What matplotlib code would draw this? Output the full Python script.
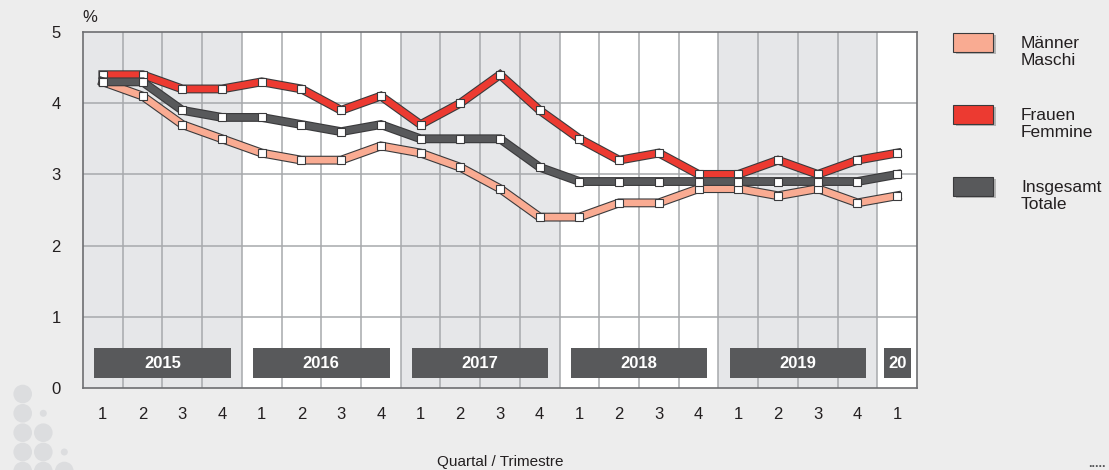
import matplotlib
matplotlib.use("Agg")
import matplotlib.pyplot as plt
import matplotlib.patheffects as pe
from matplotlib.patches import Rectangle, Circle
from matplotlib.transforms import IdentityTransform
import numpy as np

plt.rcParams['font.family'] = ['Liberation Sans', 'DejaVu Sans']

quarters = ["1", "2", "3", "4"] * 5 + ["1"]
years = ["2015", "2016", "2017", "2018", "2019", "20"]
maenner = [4.3, 4.1, 3.7, 3.5, 3.3, 3.2, 3.2, 3.4, 3.3, 3.1, 2.8, 2.4, 2.4, 2.6, 2.6, 2.8, 2.8, 2.7, 2.8, 2.6, 2.7]
frauen = [4.4, 4.4, 4.2, 4.2, 4.3, 4.2, 3.9, 4.1, 3.7, 4.0, 4.4, 3.9, 3.5, 3.2, 3.3, 3.0, 3.0, 3.2, 3.0, 3.2, 3.3]
totale = [4.3, 4.3, 3.9, 3.8, 3.8, 3.7, 3.6, 3.7, 3.5, 3.5, 3.5, 3.1, 2.9, 2.9, 2.9, 2.9, 2.9, 2.9, 2.9, 2.9, 3.0]
series_labels = ["Männer\nMaschi", "Frauen\nFemmine", "Insgesamt\nTotale"]

c_m = "#f9ab92"
c_f = "#ec3a31"
c_t = "#58595b"
edge = "#3a3a3c"
bg = "#ededed"
shade = "#e6e7e9"
gridc = "#a7a9ac"

fig = plt.figure(figsize=(11.09, 4.70), dpi=100, facecolor=bg)
ax = fig.add_axes([83/1109, 1-388/470, (917-83)/1109, (388-32)/470])
ax.set_facecolor("white")

n = len(quarters)
x = np.arange(n)
ax.set_xlim(-0.5, n - 0.5)
ax.set_ylim(0, 5)

# year shading and year boxes
starts = [0, 4, 8, 12, 16, 20]
for i, (yr, s) in enumerate(zip(years, starts)):
    e = min(s + 4, n)
    if i % 2 == 0:
        ax.axvspan(s - 0.5, e - 0.5, color=shade, zorder=0, lw=0)
    if e - s >= 4:
        x0, x1 = s - 0.22, e - 1 + 0.22
    else:
        x0, x1 = s - 0.32, s + 0.36
    ax.add_patch(Rectangle((x0, 0.14), x1 - x0, 0.42, facecolor=c_t, edgecolor="none", zorder=3))
    ax.text((x0 + x1) / 2, 0.35, yr, ha="center", va="center", color="white",
            fontsize=12, fontweight="bold", zorder=4)

# grid
for k in range(1, n):
    ax.axvline(k - 0.5, color=gridc, lw=1.1, zorder=1)
for yv in range(1, 5):
    ax.axhline(yv, color=gridc, lw=1.1, zorder=1)

for sp in ax.spines.values():
    sp.set_color("#6d6e71")
    sp.set_linewidth(1.2)

for vals, col, z in [(frauen, c_f, 5), (maenner, c_m, 6), (totale, c_t, 7)]:
    ax.plot(x, vals, color=col, lw=4.8, solid_joinstyle="miter", zorder=z,
            path_effects=[pe.Stroke(linewidth=6.4, foreground=edge), pe.Normal()])
    ax.plot(x, vals, ls="none", marker="s", ms=5.4, mfc="white", mec=edge, mew=0.8, zorder=z + 0.5)

ax.set_xticks(x)
ax.set_xticklabels(quarters, fontsize=12, color="#231f20")
ax.set_yticks(range(6))
ax.set_yticklabels([str(v) for v in range(6)], fontsize=12, color="#231f20")
ax.tick_params(axis="both", length=0)
ax.tick_params(axis="x", pad=14)
ax.tick_params(axis="y", pad=16)

fig.text(90/1109, 1-17/470, "%", fontsize=12, ha="center", va="center", color="#231f20")
fig.text(500/1109, 1-462/470, "Quartal / Trimestre", fontsize=11, ha="center", va="center", color="#231f20")

# legend
leg_cols = [c_m, c_f, c_t]
leg_top = [33, 105, 177]
for col, lab, yt in zip(leg_cols, series_labels, leg_top):
    sh = Rectangle((956/1109, 1-(yt+21)/470), 40/1109, 19/470, transform=fig.transFigure,
                   facecolor="#b5b5b5", edgecolor="none", zorder=1)
    fig.patches.append(sh)
    r = Rectangle((953/1109, 1-(yt+19)/470), 40/1109, 19/470, transform=fig.transFigure,
                  facecolor=col, edgecolor=edge, lw=0.8, zorder=2)
    fig.patches.append(r)
    fig.text(1021/1109, 1-(yt+19)/470, lab, fontsize=12.5, ha="left", va="center",
             color="#231f20", linespacing=1.1)

# decorative dots
dots = [(22.7, 394, 9.3), (22.7, 413.3, 9.3), (43.3, 413.3, 3.5), (22.7, 432.7, 9.3),
        (43.3, 432.7, 9.3), (22.7, 452, 9.3), (43.3, 452, 9.3), (64.3, 452, 3.5),
        (22.7, 471, 9.3), (43.3, 471, 9.3), (64.3, 471, 9.3)]
for cx, cy, r in dots:
    c = Circle((cx, 470 - cy), r, facecolor="#dcdddf", edgecolor="none")
    c.set_transform(IdentityTransform())
    fig.patches.append(c)

fig.text(1097/1109, 1-464/470, ".....", fontsize=9, ha="center", va="center", color="#58595b",
         fontweight="bold")

fig.savefig("out.png", dpi=100, facecolor=bg)
